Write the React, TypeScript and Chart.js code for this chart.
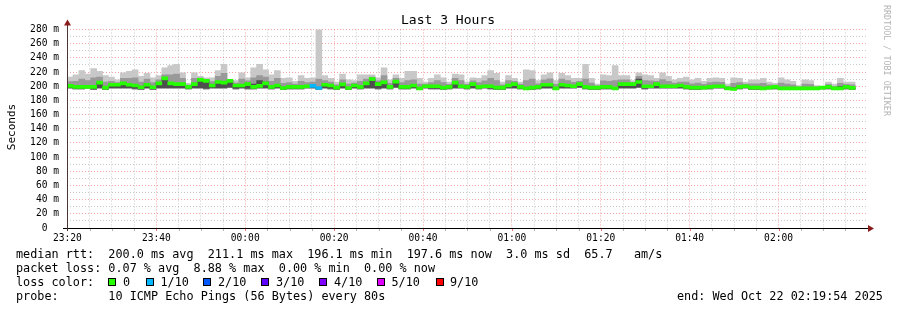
import { useEffect, useRef } from 'react';
import { Chart, registerables } from 'chart.js';

Chart.register(...registerables);

// ---- time axis (seconds relative to 23:20:00) ----
const startOffset = -6; // 23:19:54
const endOffset = 10794; // 02:19:54
const stepSeconds = 80;
const xTickLabels = ['23:20', '23:40', '00:00', '00:20', '00:40', '01:00', '01:20', '01:40', '02:00'];

// ---- values in ms, one per 80 s sample ----
const medianRtt = [
  200.5, 199, 199, 199, 199, 205, 198, 202, 202, 204,
  202, 201, 198.5, 202, 198.5, 204, 211.1, 204, 203, 203,
  199, 203, 209, 207.5, 201, 206, 205, 207.5, 201, 201,
  203, 199, 200.5, 204, 199, 201, 197.5, 199, 199, 199,
  200, 200.5, 197.5, 202, 201, 198, 202.5, 197.5, 201, 199,
  204, 210, 203, 205.5, 199, 206.5, 199, 199, 201, 197,
  200, 200, 200, 198, 199, 205, 200, 199, 203, 199,
  200, 200, 198, 198, 201, 203, 199, 197, 198, 199,
  202, 202, 197, 202, 201, 200, 203, 199, 198, 198,
  199, 199, 197, 203, 203, 203, 206, 200, 200, 203,
  200, 200, 200, 201, 199, 198, 198, 198, 199, 200,
  200, 197, 196.1, 199, 200, 198, 198, 197, 198, 199,
  197, 197, 197, 197, 197, 197, 197, 198, 199, 197,
  197, 199, 197.6,
];

const smokeMax = [
  213, 216, 222, 217, 225, 221, 215, 213, 209, 219,
  221, 223, 214, 218, 212, 215, 226, 229, 231, 219,
  204, 219, 214, 212, 212, 222, 231, 209, 208, 219,
  212, 226, 231, 223, 216, 222, 211, 212, 207, 215,
  211, 212, 282, 215, 211, 206, 217, 209, 208, 216,
  216, 216, 212, 226, 209, 216, 211, 221, 221, 211,
  206, 211, 216, 212, 206, 217, 216, 206, 212, 211,
  215, 222, 218, 206, 215, 211, 206, 223, 222, 208,
  216, 219, 208, 218, 215, 211, 211, 231, 211, 203,
  216, 215, 229, 215, 215, 208, 219, 216, 215, 211,
  219, 214, 209, 211, 213, 209, 211, 207, 211, 212,
  211, 203, 212, 211, 206, 209, 209, 211, 206, 204,
  212, 209, 207, 201, 209, 208, 201, 200, 206, 203,
  211, 206, 206,
];

const smokeMid = [
  206.5, 207, 210, 208, 212, 213, 206, 207, 205, 211,
  211, 212, 206, 210, 205, 209, 216, 216, 217, 211,
  201.5, 211, 211.5, 209.5, 206.5, 214, 218, 208, 204.5, 210,
  207.5, 212, 215, 213, 207, 211, 204, 205, 203, 207,
  205, 206, 210, 208, 206, 202, 209, 203, 204.5, 207,
  210, 213, 207.5, 215, 204, 211, 205, 208, 209, 203,
  203, 205, 208, 205, 202.5, 211, 208, 202.5, 207.5, 205,
  207.5, 211, 208, 202, 208, 207, 202.5, 208, 210, 203.5,
  209, 210.5, 202.5, 210, 208, 205.5, 207, 210, 204.5, 200.5,
  207.5, 207, 208, 209, 209, 205.5, 214, 208, 207.5, 207,
  209.5, 207, 204.5, 206, 206, 203.5, 204.5, 202.5, 205, 206,
  205.5, 200, 204, 205, 203, 203.5, 203.5, 204, 202, 201.5,
  204.5, 203, 202, 199, 203, 202.5, 199, 199, 202.5, 200,
  204, 202.5, 202,
];

const smokeDark = [
  200, 199, 199, 200, 201, 206, 198, 203, 202, 205,
  203, 201, 199, 203, 199, 205, 211, 205, 203, 204,
  199, 203, 209, 208, 201, 207, 206, 208, 201, 202,
  204, 203, 208, 206, 199, 201, 198, 200, 199, 200,
  200, 200, 198, 202, 201, 198, 204, 198, 201, 199,
  205, 210, 205, 207, 200, 207, 199, 201, 202, 198,
  200, 201, 201, 199, 200, 206, 201, 199, 204, 199,
  201, 201, 199, 199, 202, 204, 199, 198, 199, 199,
  203, 203, 198, 203, 202, 201, 204, 200, 198, 198,
  200, 199, 198, 204, 204, 203, 210, 201, 201, 204,
  201, 200, 201, 202, 199, 199, 199, 198, 200, 201,
  201, 197, 198, 200, 201, 199, 199, 198, 199, 199,
  197, 197, 197, 198, 197, 198, 197, 198, 200, 197,
  200, 199, 198,
];

const smokeMin = [
  197, 196, 196, 197, 195, 197, 195, 197, 197, 197,
  197, 196, 195, 197, 195, 197, 197, 197, 197, 197,
  196, 197, 197, 196, 197, 197, 197, 198, 196, 197,
  196, 196, 197, 197, 196, 197, 195, 196, 196, 196,
  197, 197, 195, 197, 196, 195, 197, 195, 197, 196,
  197, 197, 196, 197, 196, 198, 196, 196, 197, 195,
  197, 196, 196, 195, 196, 197, 197, 196, 197, 196,
  197, 196, 195, 195, 197, 197, 196, 195, 195, 196,
  197, 197, 195, 197, 197, 197, 198, 196, 195, 195,
  196, 196, 195, 197, 197, 197, 198, 196, 197, 197,
  197, 197, 197, 197, 196, 195, 195, 196, 196, 197,
  197, 195, 195, 196, 197, 195, 195, 195, 196, 196,
  195, 195, 195, 195, 195, 195, 195, 196, 196, 195,
  195, 196, 195,
];

// lost pings (out of 10) per sample
const lostPings = [
  0, 0, 0, 0, 0, 0, 0, 0, 0, 0,
  0, 0, 0, 0, 0, 0, 0, 0, 0, 0,
  0, 0, 0, 0, 0, 0, 0, 0, 0, 0,
  0, 0, 0, 0, 0, 0, 0, 0, 0, 0,
  0, 1, 1, 0, 0, 0, 0, 0, 0, 0,
  0, 0, 0, 0, 0, 0, 0, 0, 0, 0,
  0, 0, 0, 0, 0, 0, 0, 0, 0, 0,
  0, 0, 0, 0, 0, 0, 0, 0, 0, 0,
  0, 0, 0, 0, 0, 0, 0, 0, 0, 0,
  0, 0, 0, 0, 0, 0, 0, 0, 0, 0,
  0, 0, 0, 0, 0, 0, 0, 0, 0, 0,
  0, 0, 0, 0, 0, 0, 0, 0, 0, 0,
  0, 0, 0, 0, 0, 0, 0, 0, 0, 0,
  0, 0, 0,
];

const lossLegendLabels = ['0', '1/10', '2/10', '3/10', '4/10', '5/10', '9/10'];
const lossLegendColors = ['#26ff00', '#00b8ff', '#0059ff', '#5e00ff', '#7e00ff', '#dd00ff', '#ff0000'];
const lossColorByCount = ['#26ff00', '#00b8ff', '#0059ff', '#5e00ff', '#7e00ff', '#dd00ff', '#ff0000', '#ff0000', '#ff0000', '#ff0000', '#ff0000'];

const titleText = 'Last 3 Hours';
const yAxisTitle = 'Seconds';
const watermark = 'RRDTOOL / TOBI OETIKER';
const legendRtt = 'median rtt:  200.0 ms avg  211.1 ms max  196.1 ms min  197.6 ms now  3.0 ms sd  65.7   am/s';
const legendLoss = 'packet loss: 0.07 % avg  8.88 % max  0.00 % min  0.00 % now';
const legendLossTitle = 'loss color:';
const legendProbe = 'probe:       10 ICMP Echo Pings (56 Bytes) every 80s';
const legendEnd = 'end: Wed Oct 22 02:19:54 2025';

const MONO = '"DejaVu Sans Mono", monospace';
const MAJOR_GRID = 'rgba(240, 90, 90, 0.55)';
const MINOR_GRID = 'rgba(150, 150, 150, 0.5)';
const MEDIAN_HALF = 2.1;

const xCenters = medianRtt.map((_, i) => startOffset + stepSeconds * (i + 0.5));

const overlay = {
  id: 'rrdOverlay',
  afterDatasetsDraw(chart: any) {
    const ctx = chart.ctx as CanvasRenderingContext2D;
    const { left, right, bottom } = chart.chartArea;
    const xs = chart.scales.x;
    ctx.save();
    for (let v = 0; v <= 10500; v += 300) {
      const px = Math.round(xs.getPixelForValue(v)) + 0.5;
      ctx.strokeStyle = v % 1200 === 0 ? 'rgba(230,80,80,0.8)' : 'rgba(150,150,150,0.7)';
      ctx.beginPath();
      ctx.moveTo(px, bottom);
      ctx.lineTo(px, bottom + 3);
      ctx.stroke();
    }
    const ax = Math.round(left) + 0.5;
    const ay = Math.round(bottom) + 0.5;
    ctx.lineWidth = 1;
    ctx.strokeStyle = '#000';
    ctx.beginPath();
    ctx.moveTo(left - 4, ay);
    ctx.lineTo(right + 1, ay);
    ctx.stroke();
    ctx.strokeStyle = '#4a3434';
    ctx.beginPath();
    ctx.moveTo(ax, bottom + 3);
    ctx.lineTo(ax, 24);
    ctx.stroke();
    ctx.fillStyle = '#8b1c1c';
    ctx.beginPath();
    ctx.moveTo(ax - 3.5, 25.5);
    ctx.lineTo(ax + 3.5, 25.5);
    ctx.lineTo(ax, 19.5);
    ctx.closePath();
    ctx.fill();
    ctx.beginPath();
    ctx.moveTo(right + 1, ay - 3.5);
    ctx.lineTo(right + 1, ay + 3.5);
    ctx.lineTo(right + 7, ay);
    ctx.closePath();
    ctx.fill();
    ctx.restore();
  },
  afterDraw(chart: any) {
    const ctx = chart.ctx as CanvasRenderingContext2D;
    ctx.save();
    ctx.fillStyle = '#000';
    ctx.font = `13px ${MONO}`;
    ctx.textAlign = 'center';
    ctx.textBaseline = 'alphabetic';
    ctx.fillText(titleText, 448, 24);
    ctx.save();
    ctx.translate(15, 127);
    ctx.rotate(-Math.PI / 2);
    ctx.font = `11px ${MONO}`;
    ctx.textAlign = 'center';
    ctx.fillText(yAxisTitle, 0, 0);
    ctx.restore();
    ctx.save();
    ctx.translate(884, 5);
    ctx.rotate(Math.PI / 2);
    ctx.font = `8.4px ${MONO}`;
    ctx.fillStyle = '#b4b4b4';
    ctx.textAlign = 'left';
    ctx.textBaseline = 'alphabetic';
    ctx.fillText(watermark, 0, 0);
    ctx.restore();
    ctx.font = `11.8px ${MONO}`;
    ctx.textAlign = 'left';
    ctx.textBaseline = 'alphabetic';
    ctx.fillStyle = '#000';
    ctx.fillText(legendRtt, 16, 258);
    ctx.fillText(legendLoss, 16, 272);
    ctx.fillText(legendLossTitle, 16, 286);
    const boxX = [108, 146, 203, 261, 319, 377, 436];
    const textX = [123, 160.5, 218, 276, 334, 391.5, 450];
    lossLegendLabels.forEach((lab, i) => {
      ctx.fillStyle = lossLegendColors[i];
      ctx.fillRect(boxX[i], 278, 8, 8);
      ctx.strokeStyle = '#000';
      ctx.lineWidth = 1;
      ctx.strokeRect(boxX[i] + 0.5, 278.5, 7, 7);
      ctx.fillStyle = '#000';
      ctx.fillText(lab, textX[i], 286);
    });
    ctx.fillText(legendProbe, 16, 300);
    ctx.fillText(legendEnd, 677, 300);
    ctx.restore();
  },
};

export default function App() {
  const ref = useRef<HTMLCanvasElement>(null);
  useEffect(() => {
    const canvas = ref.current;
    if (!canvas) return;
    document.body.style.margin = '0';
    const lightData = xCenters.map((x, i) => ({ x, y: [smokeMin[i], smokeMax[i]] }));
    const midData = xCenters.map((x, i) => ({ x, y: [smokeMin[i], smokeMid[i]] }));
    const darkData = xCenters.map((x, i) => ({ x, y: [smokeMin[i] + 0.8, smokeDark[i]] }));
    const medData = xCenters.map((x, i) => ({ x, y: [medianRtt[i] - MEDIAN_HALF, medianRtt[i] + MEDIAN_HALF] }));
    const medColors = lostPings.map((n) => lossColorByCount[n]);
    const barCommon = {
      grouped: false,
      barPercentage: 1,
      categoryPercentage: 1,
      borderWidth: 0,
      borderSkipped: false,
    };
    const chart = new Chart(canvas, {
      type: 'bar',
      data: {
        datasets: [
          { ...barCommon, label: 'median', data: medData as any, backgroundColor: medColors, order: 0 },
          { ...barCommon, label: 'smoke dark', data: darkData as any, backgroundColor: '#4e4e4e', order: 1 },
          { ...barCommon, label: 'smoke mid', data: midData as any, backgroundColor: '#999999', order: 2 },
          { ...barCommon, label: 'smoke', data: lightData as any, backgroundColor: '#c8c8c8', order: 3 },
        ],
      },
      options: {
        animation: false,
        responsive: false,
        events: [],
        layout: { padding: { top: 29.5, right: 30, left: 0, bottom: 0 } },
        plugins: { legend: { display: false }, tooltip: { enabled: false }, title: { display: false } },
        scales: {
          x: {
            type: 'linear',
            offset: false,
            min: startOffset,
            max: endOffset,
            afterBuildTicks: (s: any) => {
              const t = [];
              for (let v = 0; v <= 10500; v += 300) t.push({ value: v });
              s.ticks = t;
            },
            afterFit: (s: any) => {
              s.height = 82;
            },
            ticks: {
              autoSkip: false,
              maxRotation: 0,
              minRotation: 0,
              padding: 5,
              color: '#000',
              font: { family: MONO, size: 9.6 },
              callback: (v: any) => (Number(v) % 1200 === 0 ? xTickLabels[Number(v) / 1200] : ''),
            },
            grid: {
              offset: false,
              drawTicks: false,
              color: (c: any) => (c.tick && c.tick.value % 1200 === 0 ? MAJOR_GRID : MINOR_GRID),
            },
            border: { display: false, dash: [1, 2] },
          },
          y: {
            type: 'linear',
            min: 0,
            max: 280,
            afterFit: (s: any) => {
              s.width = 67;
            },
            ticks: {
              stepSize: 10,
              autoSkip: false,
              padding: 8,
              color: '#000',
              font: { family: MONO, size: 9.6 },
              callback: (v: any) => {
                const n = Number(v);
                if (n % 20 !== 0) return '';
                return n === 0 ? '0  ' : `${n} m`;
              },
            },
            grid: {
              drawTicks: false,
              color: (c: any) => (c.tick && c.tick.value % 20 === 0 ? MAJOR_GRID : MINOR_GRID),
            },
            border: { display: false, dash: [1, 2] },
          },
        },
      } as any,
      plugins: [overlay],
    });
    return () => chart.destroy();
  }, []);
  return (
    <div style={{ position: 'fixed', left: 0, top: 0, width: 897, height: 310, background: '#fff' }}>
      <canvas ref={ref} width={897} height={310} style={{ display: 'block', width: 897, height: 310 }} />
    </div>
  );
}
